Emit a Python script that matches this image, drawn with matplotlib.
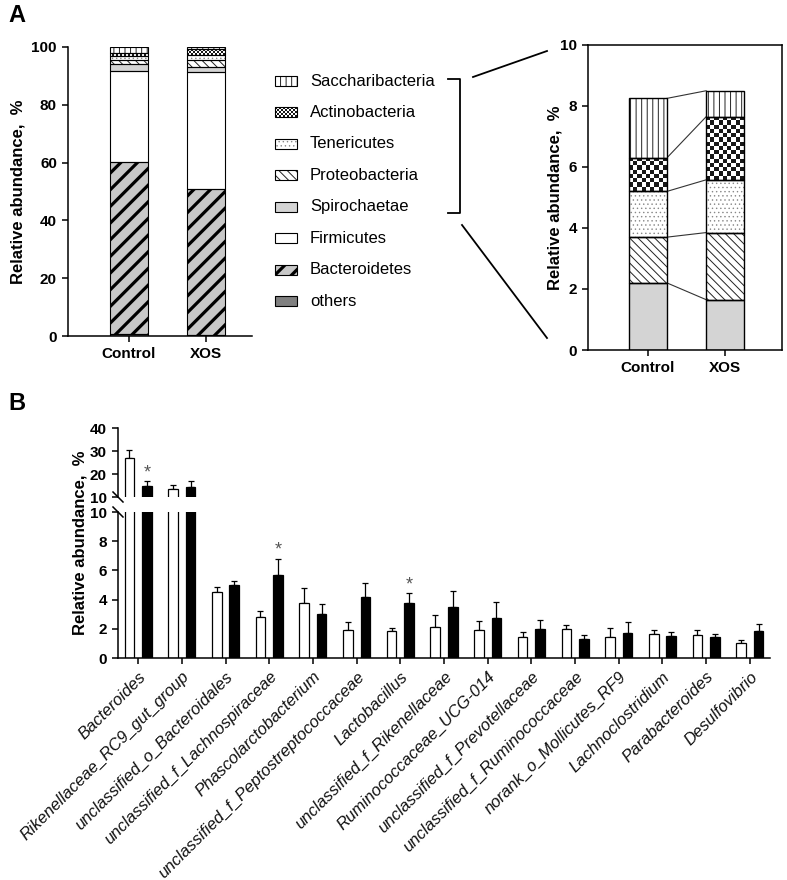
import numpy as np
import matplotlib
matplotlib.use("Agg")
import matplotlib.pyplot as plt
from matplotlib.patches import Rectangle

plt.rcParams['font.family'] = ['Liberation Sans', 'DejaVu Sans']

# ---------------- data ----------------
groups = ["Control", "XOS"]
phyla = ["others", "Bacteroidetes", "Firmicutes", "Spirochaetae",
         "Proteobacteria", "Tenericutes", "Actinobacteria", "Saccharibacteria"]
phyla_control = [0.8, 59.4, 31.55, 2.2, 1.5, 1.5, 1.1, 1.95]
phyla_xos = [0.5, 50.5, 40.5, 1.65, 2.2, 1.73, 2.07, 0.85]
minor_phyla = ["Spirochaetae", "Proteobacteria", "Tenericutes", "Actinobacteria", "Saccharibacteria"]

genera = ["Bacteroides", "Rikenellaceae_RC9_gut_group", "unclassified_o_Bacteroidales",
          "unclassified_f_Lachnospiraceae", "Phascolarctobacterium",
          "unclassified_f_Peptostreptococcaceae", "Lactobacillus",
          "unclassified_f_Rikenellaceae", "Ruminococcaceae_UCG-014",
          "unclassified_f_Prevotellaceae", "unclassified_f_Ruminococcaceae",
          "norank_o_Mollicutes_RF9", "Lachnoclostridium", "Parabacteroides", "Desulfovibrio"]
ctrl_mean = [27.0, 13.3, 4.5, 2.8, 3.75, 1.95, 1.85, 2.12, 1.9, 1.46, 1.99, 1.46, 1.62, 1.55, 1.03]
ctrl_err = [3.3, 1.8, 0.35, 0.4, 1.05, 0.55, 0.2, 0.8, 0.63, 0.3, 0.29, 0.57, 0.3, 0.35, 0.23]
xos_mean = [14.8, 14.5, 5.0, 5.7, 3.0, 4.15, 3.8, 3.47, 2.74, 1.99, 1.28, 1.71, 1.51, 1.42, 1.87]
xos_err = [2.0, 2.6, 0.25, 1.1, 0.7, 1.0, 0.65, 1.1, 1.1, 0.61, 0.3, 0.76, 0.27, 0.2, 0.46]
significant = ["Bacteroides", "unclassified_f_Lachnospiraceae", "Lactobacillus"]

# ---------------- styles ----------------
styles = {
    "others": dict(fc="#808080", hatch=None, hc=None),
    "Bacteroidetes": dict(fc="#c8c8c8", hatch="//", hc="black", hlw=2.3),
    "Firmicutes": dict(fc="white", hatch=None, hc=None),
    "Spirochaetae": dict(fc="#d4d4d4", hatch=None, hc=None),
    "Proteobacteria": dict(fc="white", hatch="\\\\\\\\", hc="#222222", hlw=0.7),
    "Tenericutes": dict(fc="white", hatch="....", hc="#888888", hlw=0.5),
    "Actinobacteria": dict(fc="checker", hatch=None, hc=None),
    "Saccharibacteria": dict(fc="white", hatch="|||", hc="#222222", hlw=0.7),
}

W, H = 787, 880
fig = plt.figure(figsize=(W / 100, H / 100), dpi=100)


def add_ax(l, t, r, b):
    return fig.add_axes([l / W, 1 - b / H, (r - l) / W, (b - t) / H])


def px_per_unit(ax):
    p0 = ax.transData.transform((0, 0))
    p1 = ax.transData.transform((1, 1))
    return abs(p1[0] - p0[0]), abs(p1[1] - p0[1])


def draw_cell(ax, x0, y0, w, h, name, edge_lw=1.0, cell=4.2):
    st = styles[name]
    if st["fc"] == "checker":
        sx, sy = px_per_unit(ax)
        nx = max(1, int(round(w * sx / cell)))
        ny = max(1, int(round(h * sy / cell)))
        img = (np.indices((ny, nx)).sum(axis=0) % 2).astype(float)
        ax.imshow(img, extent=(x0, x0 + w, y0, y0 + h), cmap="gray",
                  interpolation="nearest", aspect="auto", zorder=2, vmin=-0.1, vmax=1)
    else:
        p = Rectangle((x0, y0), w, h, facecolor=st["fc"], edgecolor=st["hc"] or st["fc"],
                      linewidth=0, hatch=st["hatch"], zorder=2)
        if st["hatch"]:
            try:
                p.set_hatch_linewidth(st.get("hlw", 1.0))
            except Exception:
                pass
        ax.add_patch(p)
    ax.add_patch(Rectangle((x0, y0), w, h, fill=False, edgecolor="black",
                           linewidth=edge_lw, zorder=3))


tick_kw = dict(direction="out", length=4.5, width=1.1, labelsize=11)
label_font = dict(fontsize=12, fontweight="bold")

# ---------------- Panel A left ----------------
axA = add_ax(68, 47, 252, 336)
axA.set_xlim(-0.79, 1.6)
axA.set_ylim(0, 100)
axA.set_autoscale_on(False)
bw = 0.49
for gi, vals in enumerate([phyla_control, phyla_xos]):
    bottom = 0
    for name, v in zip(phyla, vals):
        draw_cell(axA, gi - bw / 2, bottom, bw, v, name, edge_lw=0.8, cell=2.0)
        bottom += v
axA.set_xticks(range(len(groups)))
axA.set_xticklabels(groups, fontweight="bold")
axA.set_yticks([0, 20, 40, 60, 80, 100])
for t in axA.get_yticklabels():
    t.set_fontweight("bold")
axA.tick_params(**tick_kw)
for s in ["top", "right"]:
    axA.spines[s].set_visible(False)
for s in ["left", "bottom"]:
    axA.spines[s].set_linewidth(1.1)
axA.set_ylabel("Relative abundance,  %", **label_font, labelpad=4)

# ---------------- Panel A right (zoom) ----------------
axZ = add_ax(588, 45, 782, 350)
axZ.set_xlim(-0.78, 1.74)
axZ.set_ylim(0, 10)
axZ.set_autoscale_on(False)
cum = {}
for gi, vals in enumerate([phyla_control, phyla_xos]):
    d = dict(zip(phyla, vals))
    bottom = 0
    tops = [0]
    for name in minor_phyla:
        draw_cell(axZ, gi - bw / 2, bottom, bw, d[name], name, edge_lw=1.0, cell=4.2)
        bottom += d[name]
        tops.append(bottom)
    cum[gi] = tops
for a, b in zip(cum[0], cum[1]):
    if a == 0:
        continue
    axZ.plot([0 + bw / 2, 1 - bw / 2], [a, b], color="#333333", lw=0.8, zorder=1)
axZ.set_xticks(range(len(groups)))
axZ.set_xticklabels(groups, fontweight="bold")
axZ.set_yticks([0, 2, 4, 6, 8, 10])
for t in axZ.get_yticklabels():
    t.set_fontweight("bold")
axZ.tick_params(**tick_kw)
for s in axZ.spines.values():
    s.set_linewidth(1.1)
axZ.set_ylabel("Relative abundance,  %", **label_font, labelpad=-2)

# ---------------- overlay (legend A, bracket, panel letters) ----------------
ov = fig.add_axes([0, 0, 1, 1])
ov.set_xlim(0, W)
ov.set_ylim(H, 0)
ov.axis("off")
ov.set_autoscale_on(False)
leg_order = list(reversed(phyla))
for i, name in enumerate(leg_order):
    yc = 81 + i * 31.5
    draw_cell(ov, 275, yc - 5, 22, 10, name, edge_lw=0.8, cell=2.0)
    ov.text(310, yc, name, fontsize=12, va="center", ha="left")
# bracket
ov.plot([448, 460, 460, 448], [79, 79, 213, 213], color="black", lw=1.3)
ov.plot([473, 547], [77, 51], color="black", lw=1.3)
ov.plot([462, 547], [225, 338], color="black", lw=1.3)
ov.text(8, 4, "A", fontsize=17, fontweight="bold", va="top", ha="left")
ov.text(8, 392, "B", fontsize=17, fontweight="bold", va="top", ha="left")

# ---------------- Panel B (broken axis) ----------------
axT = add_ax(118, 428, 770, 497)
axB = add_ax(118, 512, 770, 658)
x = np.arange(len(genera))
off, w = 0.2, 0.22
for ax in (axT, axB):
    ax.bar(x - off, ctrl_mean, w, color="white", edgecolor="black", linewidth=0.9, zorder=2)
    ax.bar(x + off, xos_mean, w, color="black", edgecolor="black", linewidth=0.9, zorder=2)
    ax.errorbar(x - off, ctrl_mean, yerr=[np.zeros(len(x)), ctrl_err], fmt="none",
                ecolor="black", elinewidth=0.9, capsize=2.5, capthick=0.9, zorder=1)
    ax.errorbar(x + off, xos_mean, yerr=[np.zeros(len(x)), xos_err], fmt="none",
                ecolor="black", elinewidth=0.9, capsize=2.5, capthick=0.9, zorder=1)
    ax.set_xlim(-0.46, 14.46)
    for s in ["top", "right"]:
        ax.spines[s].set_visible(False)
    for s in ["left", "bottom"]:
        ax.spines[s].set_linewidth(1.1)
    ax.tick_params(**tick_kw)

axT.set_ylim(10, 40)
axT.set_yticks([10, 20, 30, 40])
axT.spines["bottom"].set_visible(False)
axT.set_xticks([])
axB.set_ylim(0, 10)
axB.set_yticks([0, 2, 4, 6, 8, 10])
axB.set_xticks(x)
axB.set_xticklabels(genera, rotation=45, ha="right", va="top", rotation_mode="anchor",
                    fontstyle="italic", fontsize=12, color="#111111")
for ax in (axT, axB):
    for t in ax.get_yticklabels():
        t.set_fontweight("bold")

# significance stars
for g in significant:
    i = genera.index(g)
    top = xos_mean[i] + xos_err[i]
    ax = axT if top > 10 else axB
    ax.annotate("*", (x[i] + off, top), xytext=(0, 6), textcoords="offset points",
                ha="center", va="center", fontsize=13, color="#555555")

# break marks
d = 5
for ax, ypos in ((axT, 0), (axB, 1)):
    trans = ax.transAxes
    bb = ax.get_position()
    dx = d / (bb.width * W)
    dy = d / (bb.height * H)
    ax.plot([-dx, dx], [ypos + dy, ypos - dy], transform=trans, color="black",
            lw=1.1, clip_on=False)

fig.text(80 / W, 1 - 543 / H, "Relative abundance,  %", rotation=90, va="center",
         ha="center", **label_font)

# legend B
ov.add_patch(Rectangle((680, 432), 22, 10, facecolor="white", edgecolor="black", lw=0.9))
ov.add_patch(Rectangle((680, 459), 22, 10, facecolor="black", edgecolor="black", lw=0.9))
ov.text(713, 437, "Control", fontsize=12, va="center")
ov.text(713, 464, "XOS", fontsize=12, va="center")

fig.savefig("out.png", dpi=100)
